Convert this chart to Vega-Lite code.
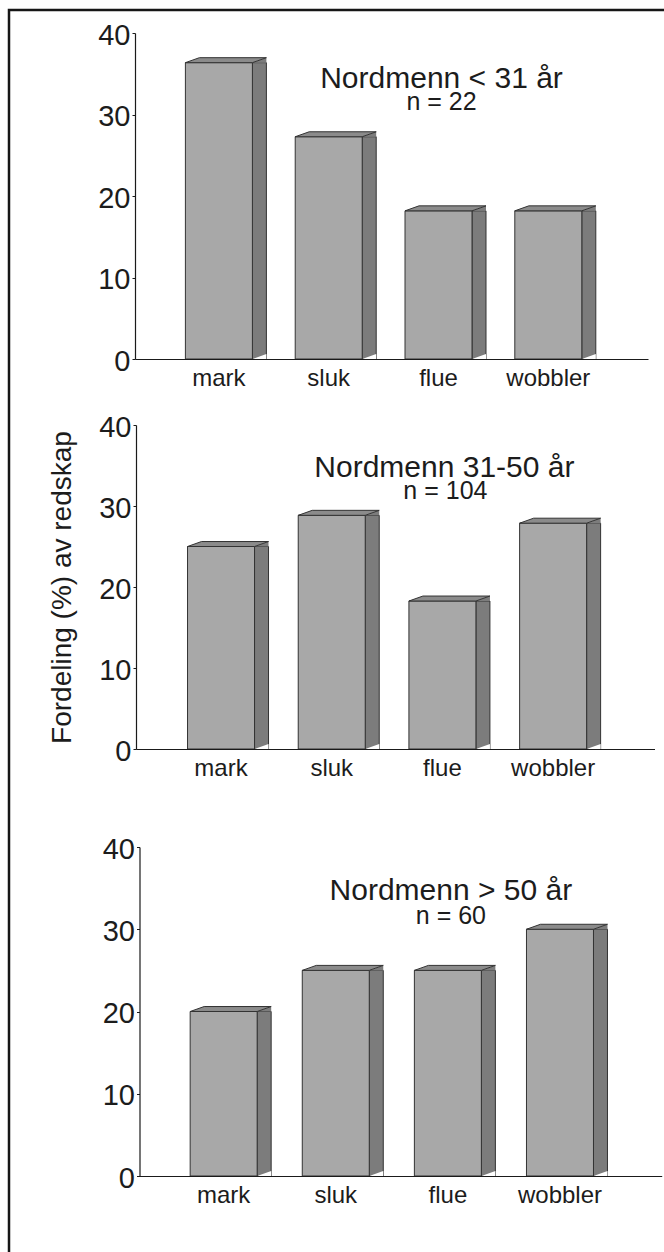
{
  "$schema": "https://vega.github.io/schema/vega-lite/v6.json",
  "description": "Fordeling (%) av redskap for tre aldersgrupper av nordmenn, tegnet som 3D-søyler.",
  "width": 658,
  "height": 1245,
  "autosize": {"type": "none"},
  "padding": {"left": 9, "top": 10, "right": 0, "bottom": 0},
  "background": "white",
  "config": {
    "font": "Liberation Sans",
    "view": {"stroke": "#161616", "strokeWidth": 2.5},
    "axis": {
      "domainColor": "#1a1a1a",
      "domainWidth": 1.2,
      "tickColor": "#1a1a1a",
      "labelColor": "#1c1c1c",
      "titleColor": "#1c1c1c",
      "labelFont": "Liberation Sans",
      "titleFont": "Liberation Sans",
      "grid": false
    }
  },
  "datasets": {
    "andeler": [
      {"panel": "p1", "redskap": "mark", "andel": 36.36},
      {"panel": "p1", "redskap": "sluk", "andel": 27.27},
      {"panel": "p1", "redskap": "flue", "andel": 18.18},
      {"panel": "p1", "redskap": "wobbler", "andel": 18.18},
      {"panel": "p2", "redskap": "mark", "andel": 25.0},
      {"panel": "p2", "redskap": "sluk", "andel": 28.85},
      {"panel": "p2", "redskap": "flue", "andel": 18.27},
      {"panel": "p2", "redskap": "wobbler", "andel": 27.88},
      {"panel": "p3", "redskap": "mark", "andel": 20.0},
      {"panel": "p3", "redskap": "sluk", "andel": 25.0},
      {"panel": "p3", "redskap": "flue", "andel": 25.0},
      {"panel": "p3", "redskap": "wobbler", "andel": 30.0}
    ],
    "titler": [
      {"panel": "p1", "tittel": "Nordmenn < 31 år", "antall": "n = 22"},
      {"panel": "p2", "tittel": "Nordmenn 31-50 år", "antall": "n = 104"},
      {"panel": "p3", "tittel": "Nordmenn > 50 år", "antall": "n = 60"}
    ]
  },
  "resolve": {"scale": {"x": "independent", "y": "independent"}, "axis": {"x": "independent", "y": "independent"}},
  "layer": [
    {
      "data": {"name": "andeler"},
      "transform": [
        {"filter": "datum.panel === 'p1'"},
        {"lookup": "panel", "from": {"data": {"name": "titler"}, "key": "panel", "fields": ["tittel", "antall"]}}
      ],
      "encoding": {
        "x": {
          "field": "redskap", "type": "nominal", "sort": ["mark", "sluk", "flue", "wobbler"],
          "scale": {"range": [126, 639], "paddingInner": 0, "paddingOuter": 0.336, "align": 0.393},
          "axis": {"orient": "bottom", "offset": -896, "title": null, "ticks": false, "labelAngle": 0, "labelFontSize": 24, "labelPadding": 7, "zindex": 1}
        },
        "y": {
          "field": "andel", "type": "quantitative",
          "scale": {"domain": [0, 40], "range": [349, 23], "nice": false, "zero": true},
          "axis": {"orient": "left", "offset": -126, "values": [0, 10, 20, 30, 40], "title": null, "tickSize": 3, "labelFontSize": 29, "labelPadding": 2, "labelOffset": 2}
        }
      },
      "layer": [
        {"mark": {"type": "bar", "width": 14, "xOffset": 40.5, "fill": "#7c7c7c", "stroke": "#333333", "strokeWidth": 1}},
        {"mark": {"type": "point", "shape": "M -1 0 L 1 -0.714 L 1 0 Z", "size": 196, "xOffset": 40.5, "filled": true, "fill": "#7c7c7c", "opacity": 1, "strokeWidth": 0}},
        {"mark": {"type": "point", "shape": "M -1 0 L 1 -0.714 L 1 0 Z", "size": 196, "xOffset": 40.5, "filled": true, "fill": "white", "opacity": 1, "strokeWidth": 0}, "encoding": {"y": {"datum": 0}}},
        {"mark": {"type": "bar", "width": 67, "fill": "#a8a8a8", "stroke": "#333333", "strokeWidth": 1}},
        {"mark": {"type": "point", "shape": "M -1 0 L -0.654 -0.123 L 1 -0.123 L 0.654 0 Z", "size": 6561, "xOffset": 7, "filled": true, "fill": "#8b8b8b", "opacity": 1, "stroke": "#333333", "strokeWidth": 1}},
        {
          "transform": [{"filter": "datum.redskap === 'flue'"}],
          "mark": {"type": "text", "fontSize": 30, "baseline": "alphabetic", "align": "center", "dx": 3, "fill": "#1c1c1c", "font": "Liberation Sans"},
          "encoding": {"y": {"datum": 33.25}, "text": {"field": "tittel"}}
        },
        {
          "transform": [{"filter": "datum.redskap === 'flue'"}],
          "mark": {"type": "text", "fontSize": 25, "baseline": "alphabetic", "align": "center", "dx": 3, "fill": "#1c1c1c", "font": "Liberation Sans"},
          "encoding": {"y": {"datum": 30.5}, "text": {"field": "antall"}}
        }
      ]
    },
    {
      "data": {"name": "andeler"},
      "transform": [
        {"filter": "datum.panel === 'p2'"},
        {"lookup": "panel", "from": {"data": {"name": "titler"}, "key": "panel", "fields": ["tittel", "antall"]}}
      ],
      "encoding": {
        "x": {
          "field": "redskap", "type": "nominal", "sort": ["mark", "sluk", "flue", "wobbler"],
          "scale": {"range": [127, 645.5], "paddingInner": 0, "paddingOuter": 0.342, "align": 0.392},
          "axis": {"orient": "bottom", "offset": -506, "title": null, "ticks": false, "labelAngle": 0, "labelFontSize": 24, "labelPadding": 7, "zindex": 1}
        },
        "y": {
          "field": "andel", "type": "quantitative",
          "scale": {"domain": [0, 40], "range": [739, 415], "nice": false, "zero": true},
          "axis": {"orient": "left", "offset": -127, "values": [0, 10, 20, 30, 40], "title": "Fordeling (%) av redskap", "titleFontSize": 28, "titleFontWeight": "normal", "titlePadding": 22, "tickSize": 3, "labelFontSize": 29, "labelPadding": 2, "labelOffset": 2}
        }
      },
      "layer": [
        {"mark": {"type": "bar", "width": 14, "xOffset": 40.5, "fill": "#7c7c7c", "stroke": "#333333", "strokeWidth": 1}},
        {"mark": {"type": "point", "shape": "M -1 0 L 1 -0.714 L 1 0 Z", "size": 196, "xOffset": 40.5, "filled": true, "fill": "#7c7c7c", "opacity": 1, "strokeWidth": 0}},
        {"mark": {"type": "point", "shape": "M -1 0 L 1 -0.714 L 1 0 Z", "size": 196, "xOffset": 40.5, "filled": true, "fill": "white", "opacity": 1, "strokeWidth": 0}, "encoding": {"y": {"datum": 0}}},
        {"mark": {"type": "bar", "width": 67, "fill": "#a8a8a8", "stroke": "#333333", "strokeWidth": 1}},
        {"mark": {"type": "point", "shape": "M -1 0 L -0.654 -0.123 L 1 -0.123 L 0.654 0 Z", "size": 6561, "xOffset": 7, "filled": true, "fill": "#8b8b8b", "opacity": 1, "stroke": "#333333", "strokeWidth": 1}},
        {
          "transform": [{"filter": "datum.redskap === 'flue'"}],
          "mark": {"type": "text", "fontSize": 30, "baseline": "alphabetic", "align": "center", "dx": 2, "fill": "#1c1c1c", "font": "Liberation Sans"},
          "encoding": {"y": {"datum": 33.6}, "text": {"field": "tittel"}}
        },
        {
          "transform": [{"filter": "datum.redskap === 'flue'"}],
          "mark": {"type": "text", "fontSize": 25, "baseline": "alphabetic", "align": "center", "dx": 3, "fill": "#1c1c1c", "font": "Liberation Sans"},
          "encoding": {"y": {"datum": 30.9}, "text": {"field": "antall"}}
        }
      ]
    },
    {
      "data": {"name": "andeler"},
      "transform": [
        {"filter": "datum.panel === 'p3'"},
        {"lookup": "panel", "from": {"data": {"name": "titler"}, "key": "panel", "fields": ["tittel", "antall"]}}
      ],
      "encoding": {
        "x": {
          "field": "redskap", "type": "nominal", "sort": ["mark", "sluk", "flue", "wobbler"],
          "scale": {"range": [130.5, 652.7], "paddingInner": 0, "paddingOuter": 0.329, "align": 0.381},
          "axis": {"orient": "bottom", "offset": -79, "title": null, "ticks": false, "labelAngle": 0, "labelFontSize": 24, "labelPadding": 7, "zindex": 1}
        },
        "y": {
          "field": "andel", "type": "quantitative",
          "scale": {"domain": [0, 40], "range": [1166, 837], "nice": false, "zero": true},
          "axis": {"orient": "left", "offset": -130.5, "values": [0, 10, 20, 30, 40], "title": null, "tickSize": 3, "labelFontSize": 29, "labelPadding": 2, "labelOffset": 2}
        }
      },
      "layer": [
        {"mark": {"type": "bar", "width": 14, "xOffset": 40.5, "fill": "#7c7c7c", "stroke": "#333333", "strokeWidth": 1}},
        {"mark": {"type": "point", "shape": "M -1 0 L 1 -0.714 L 1 0 Z", "size": 196, "xOffset": 40.5, "filled": true, "fill": "#7c7c7c", "opacity": 1, "strokeWidth": 0}},
        {"mark": {"type": "point", "shape": "M -1 0 L 1 -0.714 L 1 0 Z", "size": 196, "xOffset": 40.5, "filled": true, "fill": "white", "opacity": 1, "strokeWidth": 0}, "encoding": {"y": {"datum": 0}}},
        {"mark": {"type": "bar", "width": 67, "fill": "#a8a8a8", "stroke": "#333333", "strokeWidth": 1}},
        {"mark": {"type": "point", "shape": "M -1 0 L -0.654 -0.123 L 1 -0.123 L 0.654 0 Z", "size": 6561, "xOffset": 7, "filled": true, "fill": "#8b8b8b", "opacity": 1, "stroke": "#333333", "strokeWidth": 1}},
        {
          "transform": [{"filter": "datum.redskap === 'flue'"}],
          "mark": {"type": "text", "fontSize": 30, "baseline": "alphabetic", "align": "center", "dx": 3, "fill": "#1c1c1c", "font": "Liberation Sans"},
          "encoding": {"y": {"datum": 33.56}, "text": {"field": "tittel"}}
        },
        {
          "transform": [{"filter": "datum.redskap === 'flue'"}],
          "mark": {"type": "text", "fontSize": 25, "baseline": "alphabetic", "align": "center", "dx": 3, "fill": "#1c1c1c", "font": "Liberation Sans"},
          "encoding": {"y": {"datum": 30.65}, "text": {"field": "antall"}}
        }
      ]
    }
  ]
}
